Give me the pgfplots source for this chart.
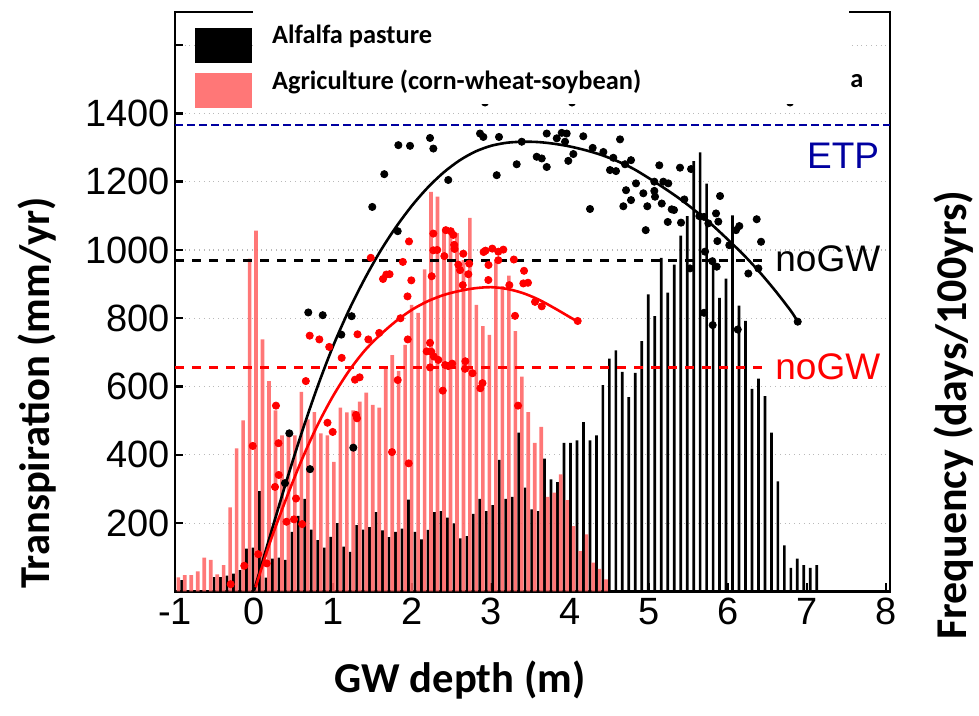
\documentclass[border=0pt]{standalone}
\usepackage{pgfplots}
\pgfplotsset{compat=1.18}
\usepackage{fontspec}
\setmainfont{Liberation Sans}
\newfontfamily\carlito{Carlito}
\definecolor{barred}{RGB}{255,100,100}
\definecolor{etpblue}{RGB}{0,0,160}
\definecolor{gridgray}{RGB}{185,185,185}
\tikzset{px/.style={x=0.5pt,y=-0.5pt,shift={(-175,-591.4)}}}
\begin{document}
\begin{tikzpicture}
\begin{axis}[
  at={(0,0)}, anchor=south west,
  scale only axis, width=357.5pt, height=289.7pt,
  xmin=-1, xmax=8.05, ymin=0, ymax=1697,
  axis line style={line width=1.4pt},
  xtick={-1,0,...,8}, xticklabels={-1,0,1,2,3,4,5,6,7,8},
  ytick={200,400,...,1600}, yticklabels={200,400,600,800,1000,1200,1400,{}},
  tick align=inside, major tick length=4pt,
  tick style={line width=1.2pt, black},
  xtick pos=bottom, ytick pos=left,
  ymajorgrids, grid style={dotted, gridgray, line width=0.6pt},
  ticklabel style={font=\fontsize{19}{19}\selectfont},
  yticklabel style={xshift=1pt},
  clip=false,
]
% black bars (Alfalfa pasture)
\addplot[ybar, bar width=0.034, bar shift=0pt, fill=black, draw=none] coordinates {
(-0.915,33) (-0.505,42) (-0.423,42) (-0.341,46) (-0.259,52) (-0.177,62) (-0.095,125) (-0.013,128)
(0.069,294) (0.151,40) (0.233,96) (0.315,99) (0.397,92) (0.479,174) (0.561,221) (0.643,271)
(0.725,181) (0.807,150) (0.889,128) (0.971,160) (1.053,200) (1.135,131) (1.217,116) (1.299,194)
(1.381,181) (1.463,188) (1.545,232) (1.627,179) (1.709,159) (1.791,174) (1.873,184) (1.955,269)
(2.037,174) (2.119,152) (2.201,180) (2.284,232) (2.366,235) (2.448,216) (2.530,199) (2.612,155)
(2.694,162) (2.776,227) (2.858,271) (2.940,235) (3.022,253) (3.104,385) (3.186,271) (3.268,277)
(3.350,465) (3.432,304) (3.514,240) (3.596,235) (3.678,389) (3.760,328) (3.842,320) (3.924,435)
(4.006,435) (4.088,442) (4.170,496) (4.252,442) (4.334,457) (4.416,604) (4.498,682) (4.580,706)
(4.662,643) (4.744,569) (4.826,640) (4.908,733) (4.990,870) (5.072,806) (5.155,977) (5.237,875)
(5.319,957) (5.401,1042) (5.483,1099) (5.565,1260) (5.647,1286) (5.729,1194) (5.811,977) (5.893,860)
(5.975,916) (6.057,1101) (6.139,837) (6.221,792) (6.303,593) (6.385,623) (6.467,572) (6.549,465)
(6.631,322) (6.713,135) (6.795,69) (6.877,96) (6.959,77) (7.041,69) (7.123,77)
};
% red bars (Agriculture)
\addplot[ybar, bar width=0.046, bar shift=0pt, fill=barred, fill opacity=0.88, draw=none] coordinates {
(-0.958,41) (-0.876,48) (-0.794,48) (-0.712,59) (-0.630,99) (-0.548,92) (-0.466,50) (-0.384,77)
(-0.302,246) (-0.220,419) (-0.138,501) (-0.056,975) (0.026,1057) (0.108,738) (0.190,616) (0.272,530)
(0.354,457) (0.436,457) (0.518,457) (0.600,584) (0.682,504) (0.764,525) (0.846,463) (0.929,457)
(1.011,379) (1.093,538) (1.175,524) (1.257,530) (1.339,556) (1.421,582) (1.503,546) (1.585,538)
(1.667,660) (1.749,692) (1.831,646) (1.913,722) (1.995,839) (2.077,816) (2.159,943) (2.241,1170)
(2.323,1156) (2.405,1058) (2.487,1053) (2.569,1049) (2.651,970) (2.733,1094) (2.815,839) (2.897,777)
(2.979,751) (3.061,972) (3.144,894) (3.226,925) (3.308,762) (3.390,629) (3.472,525) (3.554,435)
(3.636,482) (3.718,277) (3.800,289) (3.882,343) (3.964,267) (4.046,191) (4.128,118) (4.210,167)
(4.292,84) (4.374,66) (4.456,35)
};
% reference lines
\addplot[etpblue, line width=1.3pt, dash pattern=on 4pt off 2pt] coordinates {(-1,1366) (8.05,1366)};
\addplot[black, line width=1.3pt, dash pattern=on 4.5pt off 4pt] coordinates {(-1,970) (6.44,970)};
\addplot[red, line width=1.3pt, dash pattern=on 4.5pt off 4pt] coordinates {(-1,656) (6.44,656)};
% black dots
\addplot[only marks, mark=*, mark size=1.8pt, black] coordinates {
(0.392,317) (0.447,463) (0.709,358) (0.687,817) (0.870,809) (1.105,752) (1.236,806) (1.257,421)
(1.497,1126) (1.649,1222) (1.819,1055) (1.827,1307) (1.975,1305) (2.228,1328) (2.270,1297) (2.459,1205)
(2.861,1341) (2.903,1331) (3.101,1331) (3.072,1219) (3.325,1251) (3.389,1317) (3.578,1273) (3.642,1268)
(3.705,1243) (3.705,1341) (3.832,1327) (3.895,1343) (3.958,1341) (3.937,1317) (3.978,1261) (4.042,1281)
(4.168,1333) (4.287,1299) (4.253,1120) (4.422,1287) (4.548,1270) (4.506,1234) (4.582,1231) (4.633,1324)
(4.772,1263) (4.696,1251) (4.709,1175) (4.772,1146) (4.675,1128) (4.835,1195) (4.928,1166) (4.978,1128)
(4.958,1058) (5.067,1200) (5.067,1173) (5.076,1156) (5.130,1248) (5.161,1136) (5.181,1200) (5.244,1195)
(5.237,1082) (5.287,1119) (5.316,1117) (5.392,1241) (5.405,1080) (5.447,1148) (5.532,1237) (5.519,946)
(5.637,1099) (5.696,1097) (5.751,1078) (5.709,995) (5.696,816) (5.801,967) (5.806,780) (5.848,1107)
(5.857,951) (5.865,1026) (5.877,1083) (5.899,1158) (6.016,1014) (6.101,1058) (6.123,767) (6.143,1070)
(6.257,931) (6.363,1090) (6.384,946) (6.418,1024) (6.882,790)
(2.924,1432) (4.025,1432) (6.785,1432)
};
% red dots
\addplot[only marks, mark=*, mark size=1.8pt, red] coordinates {
(-0.295,21) (-0.123,75) (0.054,109) (0.161,82) (-0.016,426) (0.278,544) (0.310,434) (0.266,306)
(0.313,341) (0.411,204) (0.506,211) (0.610,197) (0.532,272) (0.656,616) (0.705,749) (0.827,738)
(0.952,716) (0.930,494) (0.996,467) (1.110,684) (1.278,620) (1.337,627) (1.291,517) (1.304,507)
(1.310,753) (1.447,738) (1.585,757) (1.747,408) (1.958,375) (1.819,619) (1.946,738) (1.854,800)
(1.943,864) (1.991,911) (1.633,915) (1.675,928) (1.716,929) (1.478,977) (1.884,965) (1.962,1025)
(2.228,728) (2.244,702) (2.186,703) (2.276,688) (2.333,678) (2.389,588) (2.420,663) (2.459,660)
(2.509,667) (2.228,656) (2.270,1048) (2.270,999) (2.319,1000) (2.249,923) (2.409,982) (2.428,1058)
(2.490,1055) (2.523,1044) (2.534,1015) (2.538,1003) (2.649,989) (2.586,957) (2.608,941) (2.724,960)
(2.713,929) (2.642,897) (2.675,674) (2.671,652) (2.766,639) (2.892,610) (2.865,595) (2.906,994)
(2.930,998) (3.016,1004) (3.092,995) (3.156,1001) (2.968,956) (2.966,912) (3.092,970) (3.289,972)
(3.418,939) (3.409,902) (3.468,904) (3.232,897) (3.304,807) (3.557,848) (3.642,835) (3.342,544)
(4.097,792)
};
% fitted curves
\addplot[black, line width=1.3pt, smooth] coordinates {
(0,2) (0.2,160) (0.4,315) (0.6,462) (0.8,597) (1.0,718) (1.2,823) (1.4,915) (1.6,997) (1.8,1068)
(2.0,1130) (2.2,1183) (2.4,1227) (2.6,1262) (2.8,1288) (3.0,1305) (3.2,1314) (3.4,1317) (3.6,1316)
(3.8,1311) (4.0,1303) (4.2,1292) (4.4,1278) (4.6,1260) (4.8,1238) (5.0,1210) (5.2,1180) (5.4,1148)
(5.6,1112) (5.8,1073) (6.0,1030) (6.2,985) (6.4,935) (6.6,880) (6.8,820) (6.882,790)
};
\addplot[red, line width=1.3pt, smooth] coordinates {
(0.02,12) (0.2,142) (0.4,267) (0.6,383) (0.8,485) (1.0,572) (1.2,645) (1.4,705) (1.6,752) (1.8,792)
(2.0,825) (2.2,850) (2.4,868) (2.6,880) (2.8,888) (3.0,891) (3.2,886) (3.4,874) (3.6,855) (3.8,830)
(4.0,803) (4.097,790)
};
\end{axis}
\begin{scope}[px]
\fill[white] (253,-2) rectangle (849,104);
\fill[black] (195,28.3) rectangle (251.7,63.3);
\fill[barred, opacity=0.88] (195,73.3) rectangle (251.7,108.3);
\node[anchor=base west, inner sep=0pt, font=\carlito\bfseries\fontsize{13.2}{13.2}\selectfont] at (271.7,43.7) {Alfalfa pasture};
\node[anchor=base west, inner sep=0pt, font=\carlito\bfseries\fontsize{13.2}{13.2}\selectfont] at (271.7,90) {Agriculture (corn-wheat-soybean)};
\node[anchor=base west, inner sep=0pt, font=\carlito\bfseries\fontsize{13.2}{13.2}\selectfont] at (850,88) {a};
\node[anchor=base west, inner sep=0pt, text=etpblue, font=\fontsize{18.5}{18.5}\selectfont] at (806.7,168.3) {ETP};
\node[anchor=base west, inner sep=0pt, text=black, font=\fontsize{18.5}{18.5}\selectfont] at (775,271.7) {noGW};
\node[anchor=base west, inner sep=0pt, text=red, font=\fontsize{18.5}{18.5}\selectfont] at (775,379.3) {noGW};
\node[rotate=90, inner sep=0pt, font=\carlito\bfseries\fontsize{21.3}{21.3}\selectfont] at (37,393) {Transpiration (mm/yr)};
\node[inner sep=0pt, font=\carlito\bfseries\fontsize{21.3}{21.3}\selectfont] at (460,680) {GW depth (m)};
\node[rotate=90, anchor=base, inner sep=0pt, font=\carlito\bfseries\fontsize{22}{22}\selectfont] at (966,415) {Frequency (days/100yrs)};
\end{scope}
\pgfresetboundingbox
\path[px, use as bounding box] (0,0) rectangle (979,716);
\end{tikzpicture}
\end{document}
